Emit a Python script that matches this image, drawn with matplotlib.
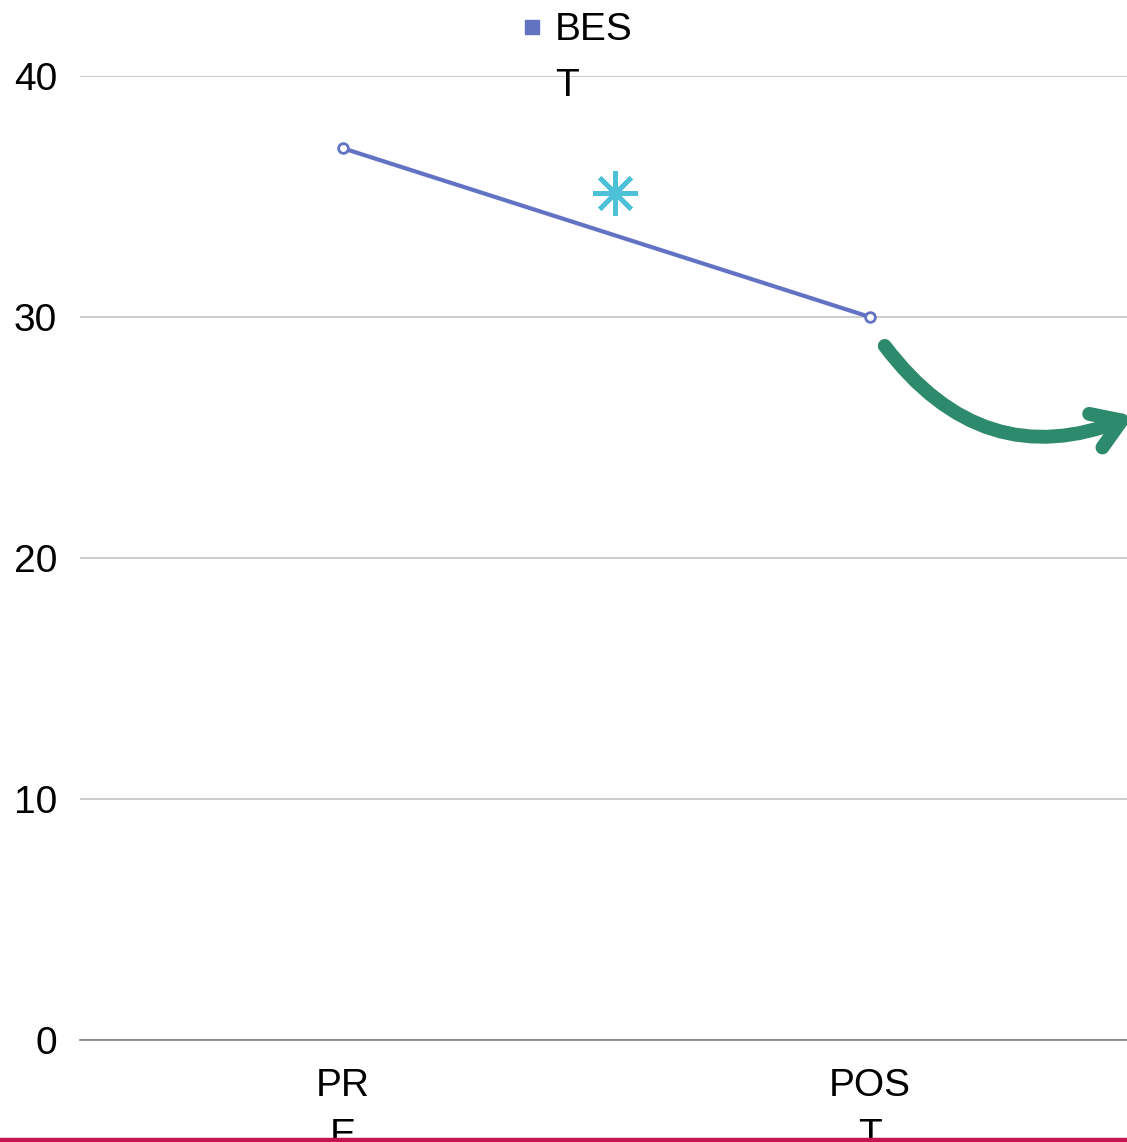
import matplotlib
matplotlib.use("Agg")
import matplotlib.pyplot as plt
from matplotlib.lines import Line2D

plt.rcParams['font.family'] = ['Liberation Sans', 'DejaVu Sans']

# Data
categories = ["PR\nE", "POS\nT"]
best_scores = [37, 30]
series_name = "BES\nT"
y_ticks = [0, 10, 20, 30, 40]

line_color = "#6373C4"
star_color = "#4DC1D8"
arrow_color = "#2E8A6C"

W, H = 1127, 1142
fig = plt.figure(figsize=(W / 100, H / 100), dpi=100)
ax = fig.add_axes([79.5 / W, (H - 1040) / H, 1054 / W, (1040 - 76) / H])

x = list(range(len(categories)))
ax.plot(x, best_scores, color=line_color, lw=3.0, marker="o", ms=7,
        mfc="white", mec=line_color, mew=2.0, zorder=3, clip_on=False)

ax.set_xlim(-0.5, len(categories) - 0.5)
ax.set_ylim(0, 40)
ax.set_yticks(y_ticks)
ax.set_yticklabels([str(v) for v in y_ticks])
ax.set_xticks(x)
ax.set_xticklabels(categories, linespacing=1.5)
ax.tick_params(axis="both", length=0, labelsize=28, colors="black")
ax.tick_params(axis="y", pad=16)
ax.tick_params(axis="x", pad=20)

ax.grid(axis="y", color="#BFBFBF", lw=1.1)
ax.set_axisbelow(True)
for side in ("left", "right", "top"):
    ax.spines[side].set_visible(False)
ax.spines["bottom"].set_color("#7F7F7F")
ax.spines["bottom"].set_linewidth(1.2)

# significance marker
ax.plot([0.516], [35.15], marker=(8, 2, 0), ms=32, mew=3.4,
        color=star_color, clip_on=False, zorder=4)

# curved arrow
ax.annotate("", xy=(1.5, 25.9), xytext=(1.028, 28.8),
            xycoords="data", textcoords="data", annotation_clip=False,
            arrowprops=dict(arrowstyle="->,head_length=2.0,head_width=1.3",
                            connectionstyle="arc3,rad=0.38",
                            color=arrow_color, lw=10, capstyle="round",
                            shrinkA=0, shrinkB=0))

# legend
fig.add_artist(Line2D([532 / W], [(H - 27) / H], marker="s", ms=10,
                      color=line_color, transform=fig.transFigure, lw=0))
fig.text(555 / W, (H - 12) / H, series_name, fontsize=28, va="top",
         ha="left", linespacing=1.71, transform=fig.transFigure,
         color="black")

# bottom rule
fig.add_artist(Line2D([0, 1], [2 / H, 2 / H], color="#C2164F", lw=3.2,
                      transform=fig.transFigure))

fig.savefig("out.png", dpi=100)
